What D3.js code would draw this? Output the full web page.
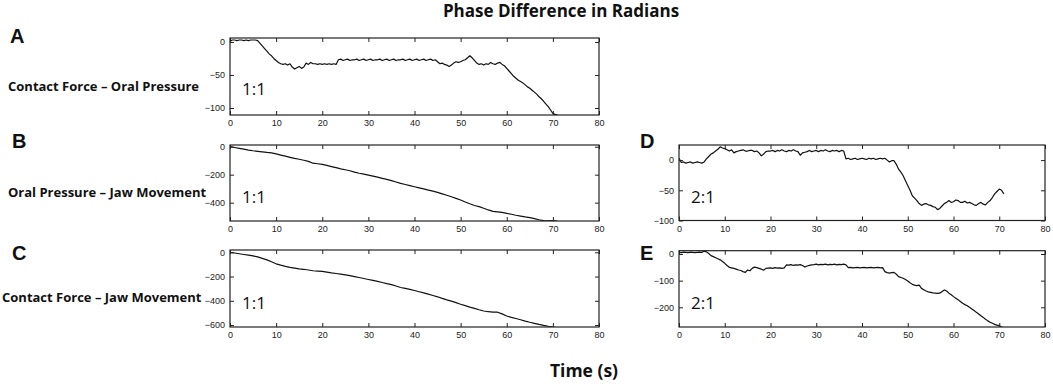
<!DOCTYPE html>
<html>
<head>
<meta charset="utf-8">
<script src="https://cdn.jsdelivr.net/npm/d3@7"></script>
<style>
  body { margin: 0; background: #fff; }
  svg { display: block; }
</style>
</head>
<body>
<div id="chart"></div>
<script>
// time axis ticks (s), shared by all panels
const timeTicks = [0, 10, 20, 30, 40, 50, 60, 70, 80];

// A: contact force - oral pressure, 1:1, one value every 0.5 s
const phaseA = [
  1, 3, 3, 2, 3, 3, 2, 3, 2, 3, 3, 3, 2,
  -2, -6, -10, -14, -18, -21, -25, -28, -31, -33, -34, -33, -35, -33, -38, -41, -39, -37,
  -40, -38, -32, -34, -31, -33, -33, -34, -33, -34, -33, -34, -33, -34, -33, -34, -27,
  -26, -28, -27, -26, -28, -27, -27, -26, -28, -27, -26, -28, -27, -26, -28, -27, -27,
  -26, -28, -27, -26, -28, -27, -26, -28, -27, -27, -26, -28, -27, -26, -28, -27, -26,
  -28, -27, -26, -28, -27, -26, -28,
  -27, -30, -33, -32, -34, -35, -37, -35, -32, -30, -31, -30, -28, -27, -24, -21, -24,
  -28, -32, -34, -33, -35, -33, -34, -31, -33, -34, -32, -31, -34, -36, -40, -44, -48,
  -52, -55, -58, -60, -62, -65, -68, -70, -73, -76, -79, -83, -86, -90, -94, -98, -103,
  -108, -110, -110
];
const ticksA = [0, -50, -100];

// B: oral pressure - jaw movement, 1:1, one value every 1 s
const phaseB = [
  0, -6, -12, -18, -24, -29, -33, -37, -41, -44, -52, -60, -68, -76, -84, -90, -97, -105,
  -118, -122, -127, -134, -142, -150, -158, -165, -172, -182, -190, -196, -203, -210, -218,
  -226, -234, -242, -252, -262, -270, -278, -286, -294, -302, -310, -318, -327, -337, -347,
  -358, -369, -381, -395, -408, -420, -428, -440, -452, -462, -466, -470, -476, -483, -490,
  -496, -502, -507, -514, -522, -528, -530, -528, -532
];
const ticksB = [0, -200, -400];

// C: contact force - jaw movement, 1:1, one value every 1 s
const phaseC = [
  0, -6, -12, -18, -24, -30, -38, -50, -62, -78, -95, -106, -116, -124, -130, -136, -140,
  -146, -152, -155, -158, -163, -170, -175, -180, -186, -193, -200, -208, -216, -224, -232,
  -240, -249, -258, -266, -278, -290, -298, -306, -315, -325, -335, -345, -356, -367, -380,
  -392, -403, -415, -428, -440, -452, -463, -474, -484, -490, -493, -494, -508, -525, -536,
  -546, -556, -567, -577, -586, -595, -603, -610, -616, -622
];
const ticksC = [0, -200, -400, -600];

// D: oral pressure - jaw movement, 2:1, one value every 0.5 s
const phaseD = [
  3, -4, -3, -5, -4, -3, -5, -4, -3, -4, -5, -3,
  2, 6, 10, 12, 15, 18, 22, 20, 19, 17, 15, 17, 12, 14, 15, 16, 17, 15, 15, 16,
  16, 14, 15, 12, 7, 10, 14, 15, 15, 16, 14, 16, 15, 17, 15, 14, 16, 15, 17, 15,
  14, 8, 12, 13, 14, 16, 14, 15, 16, 14, 16, 15, 17, 15, 14, 16, 15, 16, 14, 16,
  15, 2,
  3, 1, 2, 3, 1, 2, 3, 2, 1, 3, 2, 3, 1, 2, 3, 2,
  3, 0, -3, -1, -1, -7, -15, -20, -26, -34, -42, -50, -59, -63, -67, -72, -75, -73,
  -72, -74, -75, -77, -78, -82, -80, -76, -72, -70, -67, -70, -69, -66, -67, -70, -70,
  -68, -71, -70, -72, -74, -75, -72, -70, -73, -74, -70, -67, -62, -56, -52, -48, -50, -56
];
const ticksD = [0, -50, -100];

// E: contact force - jaw movement, 2:1, one value every 0.5 s
const phaseE = [
  6, 5, 7, 6, 5, 7, 6, 5, 6, 7, 6,
  11, 8, 2, -6, -10, -14, -18, -22, -28, -35, -43, -50, -52, -54, -57, -60, -62, -66,
  -69, -60, -63, -54, -49, -51, -54, -57, -61, -54, -53, -52, -54, -51, -53, -52, -54,
  -52, -41,
  -42, -40, -43, -41, -42, -40, -43,
  -49, -45, -43, -41,
  -40, -38, -41, -39, -40, -38, -41, -39, -40, -38, -41, -39, -40, -38, -41,
  -51, -50, -52, -51, -50, -52, -51, -50, -52, -51, -50, -52, -51, -50, -52, -51,
  -66, -70, -72, -70, -69, -76, -85, -88, -91, -96, -101, -108, -114, -117, -119, -117,
  -129, -134, -139, -142, -144, -146, -147, -148, -147, -141, -135, -139, -147, -153,
  -160, -166, -172, -178, -185, -190, -194, -200, -206, -212, -219, -225, -232, -238,
  -245, -251, -256, -260, -264, -267, -269, -274, -276
];
const ticksE = [0, -100, -200];

const rowLabels = ["Contact Force \u2013 Oral Pressure", "Oral Pressure \u2013 Jaw Movement", "Contact Force \u2013 Jaw Movement"];

// layout of the five panels (pixel boxes)
const panels = [
  { letter: "A", values: phaseA, step: 0.5, yDomain: [-110.6, 6], yTicks: ticksA, ratio: "1:1",
    x: 230, y: 38, w: 369, h: 77, letterX: 10, letterY: 43 },
  { letter: "B", values: phaseB, step: 1, yDomain: [-531, 12], yTicks: ticksB, ratio: "1:1",
    x: 230, y: 145, w: 369, h: 76, letterX: 12, letterY: 148 },
  { letter: "C", values: phaseC, step: 1, yDomain: [-616, 19], yTicks: ticksC, ratio: "1:1",
    x: 230, y: 250, w: 369, h: 77, letterX: 12, letterY: 260 },
  { letter: "D", values: phaseD, step: 0.5, yDomain: [-100, 25], yTicks: ticksD, ratio: "2:1",
    x: 679, y: 145, w: 366, h: 75.5, letterX: 640, letterY: 148 },
  { letter: "E", values: phaseE, step: 0.5, yDomain: [-274, 12.4], yTicks: ticksE, ratio: "2:1",
    x: 679, y: 250.7, w: 366, h: 76.3, letterX: 640, letterY: 260 }
];

const width = 1053, height = 384;
const labelFont = "'Open Sans', Lato, sans-serif";
const tickFont = "'Liberation Sans', Arial, sans-serif";

const svg = d3.select("#chart").append("svg")
  .attr("width", width)
  .attr("height", height);

// title + x axis title
svg.append("text")
  .attr("x", 561).attr("y", 17)
  .attr("text-anchor", "middle")
  .style("font-family", labelFont).style("font-size", "17px").style("font-weight", "bold")
  .style("fill", "#111")
  .text("Phase Difference in Radians");

svg.append("text")
  .attr("x", 584).attr("y", 377)
  .attr("text-anchor", "middle")
  .style("font-family", labelFont).style("font-size", "17.5px").style("font-weight", "bold")
  .style("fill", "#111")
  .text("Time (s)");

// row labels on the left
const rowLabelPos = [[8, 91], [8, 197], [2, 302]];
rowLabels.forEach((txt, i) => {
  svg.append("text")
    .attr("x", rowLabelPos[i][0]).attr("y", rowLabelPos[i][1])
    .style("font-family", labelFont).style("font-size", "13px").style("font-weight", "bold")
    .style("fill", "#111")
    .text(txt);
});

panels.forEach((p, idx) => drawPanel(p, idx));

function drawPanel(p, idx) {
  const xScale = d3.scaleLinear().domain([0, 80]).range([p.x, p.x + p.w]);
  const yScale = d3.scaleLinear().domain(p.yDomain).range([p.y + p.h, p.y]);

  // panel letter
  svg.append("text")
    .attr("x", p.letterX).attr("y", p.letterY)
    .style("font-family", tickFont).style("font-size", "20px").style("font-weight", "bold")
    .style("fill", "#111")
    .text(p.letter);

  const clipId = "clip" + idx;
  svg.append("clipPath").attr("id", clipId)
    .append("rect")
    .attr("x", p.x).attr("y", p.y).attr("width", p.w).attr("height", p.h);

  // the phase trace
  const line = d3.line()
    .x((d, i) => xScale(i * p.step))
    .y(d => yScale(d));

  svg.append("path")
    .datum(p.values)
    .attr("clip-path", `url(#${clipId})`)
    .attr("d", line)
    .attr("fill", "none")
    .attr("stroke", "#111")
    .attr("stroke-width", 1.2)
    .attr("stroke-linejoin", "round");

  // axes with ticks pointing inwards (matlab look)
  const styleAxis = g => {
    g.select(".domain").remove();
    g.selectAll(".tick line").attr("stroke", "#222").attr("stroke-width", 1);
    g.selectAll(".tick text")
      .style("font-family", tickFont).style("font-size", "9px").style("fill", "#222");
  };

  svg.append("g")
    .attr("transform", `translate(0,${p.y + p.h})`)
    .call(d3.axisBottom(xScale).tickValues(timeTicks).tickSize(-4).tickPadding(5))
    .call(styleAxis);

  svg.append("g")
    .attr("transform", `translate(0,${p.y})`)
    .call(d3.axisTop(xScale).tickValues(timeTicks).tickSize(-4).tickFormat(""))
    .call(styleAxis);

  svg.append("g")
    .attr("transform", `translate(${p.x},0)`)
    .call(d3.axisLeft(yScale).tickValues(p.yTicks).tickSize(-4).tickPadding(5))
    .call(styleAxis);

  svg.append("g")
    .attr("transform", `translate(${p.x + p.w},0)`)
    .call(d3.axisRight(yScale).tickValues(p.yTicks).tickSize(-4).tickFormat(""))
    .call(styleAxis);

  // box
  svg.append("rect")
    .attr("x", p.x).attr("y", p.y).attr("width", p.w).attr("height", p.h)
    .attr("fill", "none")
    .attr("stroke", "#222")
    .attr("stroke-width", 1.2);

  // ratio label
  svg.append("text")
    .attr("x", p.x + 12).attr("y", p.y + p.h - (p.letter === "A" ? 20 : 18))
    .style("font-family", labelFont).style("font-size", "17px")
    .style("fill", "#111")
    .text(p.ratio);
}
</script>
</body>
</html>
